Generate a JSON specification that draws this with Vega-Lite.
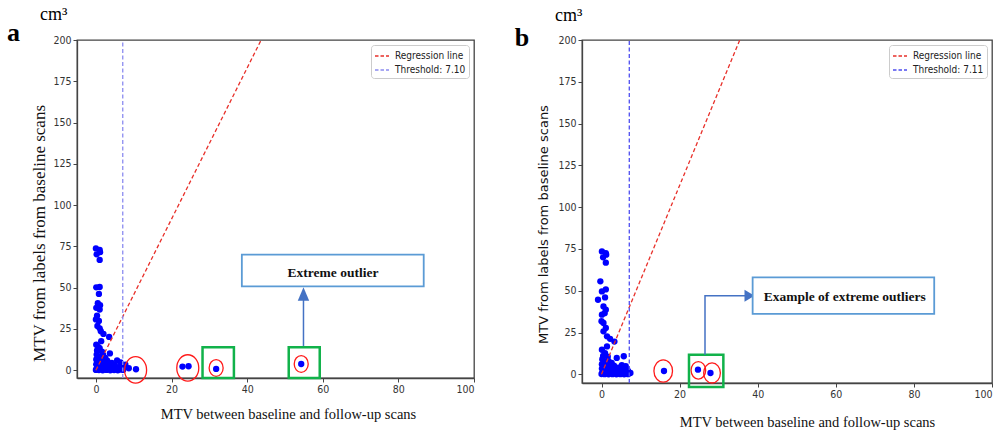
{
  "$schema": "https://vega.github.io/schema/vega-lite/v6.json",
  "background": "white",
  "padding": {"left": 6, "top": 5, "right": 0, "bottom": 0},
  "spacing": 38,
  "config": {
    "view": {"stroke": "#444444", "strokeWidth": 1.3},
    "axis": {
      "grid": false,
      "domainColor": "#444444",
      "domainWidth": 1.3,
      "tickColor": "#444444",
      "tickSize": 4,
      "labelFont": "Liberation Sans Narrow, DejaVu Sans Condensed, sans-serif",
      "labelFontSize": 10.5,
      "labelColor": "#333333",
      "labelPadding": 2,
      "titleColor": "#111111",
      "titleFontWeight": "normal"
    },
    "legend": {
      "title": null,
      "orient": "top-right",
      "offset": 5,
      "fillColor": "white",
      "strokeColor": "#cccccc",
      "cornerRadius": 3,
      "padding": 3,
      "symbolType": "stroke",
      "symbolDash": [3.5, 2],
      "symbolStrokeWidth": 1.5,
      "symbolSize": 196,
      "labelFont": "Liberation Sans Narrow, DejaVu Sans Condensed, sans-serif",
      "labelFontSize": 10,
      "labelColor": "#222222",
      "rowPadding": 1,
      "labelOffset": 5
    }
  },
  "datasets": {
    "scatterA": [
      {"x": 0.0, "y": 73.8}, {"x": 1.0, "y": 72.8}, {"x": 0.2, "y": 70.2}, {"x": 1.1, "y": 71.5}, {"x": 1.0, "y": 66.8},
      {"x": 0.1, "y": 50.2}, {"x": 1.0, "y": 50.4}, {"x": 0.8, "y": 46.2},
      {"x": 0.5, "y": 40.6}, {"x": 1.1, "y": 39.4}, {"x": 0.1, "y": 37.8}, {"x": 1.0, "y": 36.8}, {"x": 0.3, "y": 33.0},
      {"x": 0.0, "y": 30.8}, {"x": 0.8, "y": 29.8}, {"x": 0.4, "y": 26.8}, {"x": 1.0, "y": 25.4}, {"x": 1.3, "y": 23.6},
      {"x": 2.0, "y": 22.0}, {"x": 3.5, "y": 20.2},
      {"x": 1.4, "y": 17.6}, {"x": 0.1, "y": 15.5}, {"x": 0.6, "y": 14.2}, {"x": 1.0, "y": 13.4}, {"x": 0.3, "y": 12.0},
      {"x": 1.6, "y": 11.2}, {"x": 3.7, "y": 10.2}, {"x": 0.2, "y": 9.5}, {"x": 1.9, "y": 9.3}, {"x": 0.8, "y": 8.0},
      {"x": 2.5, "y": 7.5}, {"x": 0.1, "y": 6.5}, {"x": 1.2, "y": 6.2}, {"x": 3.0, "y": 5.8}, {"x": 5.6, "y": 6.0},
      {"x": 0.4, "y": 5.0}, {"x": 2.0, "y": 4.8}, {"x": 4.2, "y": 4.5}, {"x": 6.5, "y": 4.8}, {"x": 0.1, "y": 3.6},
      {"x": 1.0, "y": 3.5}, {"x": 2.8, "y": 3.2}, {"x": 3.6, "y": 3.0}, {"x": 5.0, "y": 3.2}, {"x": 7.8, "y": 3.4},
      {"x": 0.5, "y": 2.2}, {"x": 1.5, "y": 2.0}, {"x": 2.4, "y": 1.8}, {"x": 4.6, "y": 1.7}, {"x": 6.0, "y": 1.8},
      {"x": 7.0, "y": 2.0}, {"x": 0.2, "y": 1.0}, {"x": 1.1, "y": 0.8}, {"x": 2.0, "y": 0.6}, {"x": 3.2, "y": 0.8},
      {"x": 4.0, "y": 0.5}, {"x": 5.4, "y": 0.6}, {"x": 6.4, "y": 0.4}, {"x": 0.0, "y": 0.2}, {"x": 0.8, "y": 0.1},
      {"x": 1.8, "y": 0.0}, {"x": 2.8, "y": 0.2}, {"x": 3.8, "y": 0.0}, {"x": 4.8, "y": 0.1}, {"x": 5.8, "y": 0.0},
      {"x": 7.2, "y": 0.2},
      {"x": 8.7, "y": 1.2}, {"x": 10.6, "y": 0.6}, {"x": 22.9, "y": 2.2}, {"x": 24.5, "y": 2.4}, {"x": 31.8, "y": 0.8},
      {"x": 54.3, "y": 3.8}
    ],
    "scatterB": [
      {"x": 0.1, "y": 73.5}, {"x": 1.1, "y": 72.5}, {"x": 0.4, "y": 70.0}, {"x": 1.2, "y": 71.6}, {"x": 1.1, "y": 66.8},
      {"x": -0.3, "y": 55.6}, {"x": -0.9, "y": 44.6}, {"x": 0.1, "y": 49.6}, {"x": 1.1, "y": 50.8}, {"x": 0.9, "y": 46.0},
      {"x": 0.5, "y": 40.6}, {"x": 1.1, "y": 38.6}, {"x": 0.1, "y": 35.7}, {"x": 0.8, "y": 36.6}, {"x": 0.5, "y": 30.7},
      {"x": 0.0, "y": 31.8}, {"x": 1.1, "y": 27.7}, {"x": 0.5, "y": 25.7}, {"x": 1.4, "y": 22.7}, {"x": 2.2, "y": 21.2},
      {"x": 3.3, "y": 19.6},
      {"x": 1.4, "y": 16.7}, {"x": 0.1, "y": 14.7}, {"x": 0.9, "y": 12.7}, {"x": 0.4, "y": 11.0}, {"x": 1.6, "y": 10.5},
      {"x": 3.9, "y": 9.8}, {"x": 5.7, "y": 10.8}, {"x": 0.2, "y": 9.0}, {"x": 1.8, "y": 7.8}, {"x": 0.8, "y": 7.5},
      {"x": 2.6, "y": 6.8}, {"x": 0.1, "y": 6.0}, {"x": 1.3, "y": 5.6}, {"x": 3.2, "y": 5.2}, {"x": 5.2, "y": 5.5},
      {"x": 6.2, "y": 4.8}, {"x": 0.4, "y": 4.6}, {"x": 2.1, "y": 4.2}, {"x": 4.3, "y": 4.0}, {"x": 0.1, "y": 3.4},
      {"x": 1.0, "y": 3.2}, {"x": 2.9, "y": 3.0}, {"x": 3.7, "y": 2.8}, {"x": 5.1, "y": 2.9}, {"x": 6.6, "y": 3.0},
      {"x": 0.5, "y": 2.0}, {"x": 1.5, "y": 1.8}, {"x": 2.4, "y": 1.6}, {"x": 4.6, "y": 1.5}, {"x": 5.8, "y": 1.7},
      {"x": 6.9, "y": 1.6}, {"x": 0.2, "y": 0.9}, {"x": 1.1, "y": 0.7}, {"x": 2.0, "y": 0.5}, {"x": 3.2, "y": 0.7},
      {"x": 4.0, "y": 0.4}, {"x": 5.4, "y": 0.5}, {"x": 6.4, "y": 0.4}, {"x": 7.4, "y": 0.8}, {"x": 0.0, "y": 0.2},
      {"x": 0.8, "y": 0.1}, {"x": 1.8, "y": 0.0}, {"x": 2.8, "y": 0.1}, {"x": 3.8, "y": 0.0}, {"x": 4.8, "y": 0.1},
      {"x": 5.8, "y": 0.0}, {"x": 6.8, "y": 0.1},
      {"x": 16.0, "y": 2.0}, {"x": 24.7, "y": 2.8}, {"x": 27.9, "y": 0.8}
    ],
    "linesA": [
      {"series": "Regression line", "x": 0, "y": 0, "o": 0},
      {"series": "Regression line", "x": 43.7, "y": 200, "o": 1},
      {"series": "Threshold: 7.10", "x": 7.1, "y": -4.7, "o": 0},
      {"series": "Threshold: 7.10", "x": 7.1, "y": 200, "o": 1}
    ],
    "linesB": [
      {"series": "Regression line", "x": 0, "y": 0, "o": 0},
      {"series": "Regression line", "x": 35.4, "y": 200, "o": 1},
      {"series": "Threshold: 7.11", "x": 7.11, "y": -5.2, "o": 0},
      {"series": "Threshold: 7.11", "x": 7.11, "y": 200, "o": 1}
    ],
    "annA": [
      {"g": "ring", "k": "lg", "x": 10.5, "y": 0.2},
      {"g": "ring", "k": "lg", "x": 24.3, "y": 1.4},
      {"g": "ring", "k": "md", "x": 31.8, "y": 1.4},
      {"g": "ring", "k": "md", "x": 54.3, "y": 3.8},
      {"g": "box", "x": 28.2, "x2": 36.5, "y": 13.9, "y2": -4.7},
      {"g": "box", "x": 51.0, "x2": 59.2, "y": 13.9, "y2": -4.7},
      {"g": "callout", "x": 38.6, "x2": 86.7, "y": 70.0, "y2": 50.8},
      {"g": "note", "x": 62.7, "y": 58.7, "label": "Extreme outlier"},
      {"g": "arrow", "x": 54.9, "y": 14.7, "o": 0},
      {"g": "arrow", "x": 54.9, "y": 44.0, "o": 1},
      {"g": "head", "x": 54.9, "y": 46.2},
      {"g": "letter", "x": -23.5, "y": 199.4, "label": "a"},
      {"g": "unit", "x": -14.8, "y": 212.1, "label": "cm³"}
    ],
    "annB": [
      {"g": "ring", "k": "lg", "x": 15.8, "y": 2.0},
      {"g": "ring", "k": "sm", "x": 24.8, "y": 2.4},
      {"g": "ring", "k": "md", "x": 28.3, "y": 0.8},
      {"g": "box", "x": 22.4, "x2": 31.2, "y": 11.7, "y2": -7.6},
      {"g": "callout", "x": 38.7, "x2": 85.2, "y": 58.0, "y2": 36.2},
      {"g": "note", "x": 62.3, "y": 46.0, "label": "Example of extreme outliers"},
      {"g": "arrow", "x": 26.5, "y": 11.7, "o": 0},
      {"g": "arrow", "x": 26.5, "y": 47.0, "o": 1},
      {"g": "arrow", "x": 37.5, "y": 47.0, "o": 2},
      {"g": "head", "x": 37.9, "y": 47.0},
      {"g": "letter", "x": -22.2, "y": 196.4, "label": "b"},
      {"g": "unit", "x": -11.9, "y": 211.4, "label": "cm³"}
    ]
  },
  "hconcat": [
    {
      "width": 397,
      "height": 338,
      "layer": [
        {
          "data": {"name": "scatterA"},
          "mark": {"type": "circle", "color": "#0000ff", "size": 40, "opacity": 1},
          "encoding": {
            "x": {"field": "x", "type": "quantitative", "scale": {"domain": [-5, 100], "nice": false, "zero": false},
              "axis": {"values": [0, 20, 40, 60, 80, 100], "title": "MTV between baseline and follow-up scans",
                "titleFont": "Liberation Serif", "titleFontSize": 14.5, "titleX": 211, "titleY": 36,
                "titleAlign": "center", "titleBaseline": "middle"}},
            "y": {"field": "y", "type": "quantitative", "scale": {"domain": [-4.7, 200], "nice": false, "zero": false},
              "axis": {"values": [0, 25, 50, 75, 100, 125, 150, 175, 200], "title": "MTV from labels from baseline scans",
                "titleFont": "Liberation Serif", "titleFontSize": 17, "titleX": -38, "titleY": 193,
                "titleAngle": 270, "titleAlign": "center", "titleBaseline": "middle"}}
          }
        },
        {
          "data": {"name": "linesA"},
          "mark": {"type": "line", "strokeDash": [4, 2.5], "strokeWidth": 1.3},
          "encoding": {
            "x": {"field": "x", "type": "quantitative"},
            "y": {"field": "y", "type": "quantitative"},
            "color": {"field": "series", "type": "nominal",
              "scale": {"domain": ["Regression line", "Threshold: 7.10"], "range": ["#e8302a", "#8c8cf0"]}},
            "order": {"field": "o", "type": "quantitative"}
          }
        },
        {
          "data": {"name": "annA"},
          "transform": [{"filter": "datum.g === 'ring'"}],
          "mark": {"type": "point", "shape": "M-1,0A1,1.2,0,1,1,1,0A1,1.2,0,1,1,-1,0Z", "filled": false,
            "stroke": "#ff1a1a", "strokeWidth": 1.3, "opacity": 1},
          "encoding": {
            "x": {"field": "x", "type": "quantitative"},
            "y": {"field": "y", "type": "quantitative"},
            "size": {"field": "k", "type": "ordinal", "scale": {"domain": ["lg", "md"], "range": [484, 196]}, "legend": null}
          }
        },
        {
          "data": {"name": "annA"},
          "transform": [{"filter": "datum.g === 'box'"}],
          "mark": {"type": "rect", "fill": "transparent", "stroke": "#11b24a", "strokeWidth": 2.5},
          "encoding": {
            "x": {"field": "x", "type": "quantitative"}, "x2": {"field": "x2"},
            "y": {"field": "y", "type": "quantitative"}, "y2": {"field": "y2"}
          }
        },
        {
          "data": {"name": "annA"},
          "transform": [{"filter": "datum.g === 'arrow'"}],
          "mark": {"type": "line", "color": "#4472c4", "strokeWidth": 1.5},
          "encoding": {
            "x": {"field": "x", "type": "quantitative"},
            "y": {"field": "y", "type": "quantitative"},
            "order": {"field": "o", "type": "quantitative"}
          }
        },
        {
          "data": {"name": "annA"},
          "transform": [{"filter": "datum.g === 'head'"}],
          "mark": {"type": "point", "shape": "M0,-1L0.85,1L-0.85,1Z", "filled": true, "color": "#4472c4", "size": 180, "opacity": 1},
          "encoding": {
            "x": {"field": "x", "type": "quantitative"},
            "y": {"field": "y", "type": "quantitative"}
          }
        },
        {
          "data": {"name": "annA"},
          "transform": [{"filter": "datum.g === 'callout'"}],
          "mark": {"type": "rect", "fill": "white", "stroke": "#5b9bd5", "strokeWidth": 1.8},
          "encoding": {
            "x": {"field": "x", "type": "quantitative"}, "x2": {"field": "x2"},
            "y": {"field": "y", "type": "quantitative"}, "y2": {"field": "y2"}
          }
        },
        {
          "data": {"name": "annA"},
          "transform": [{"filter": "datum.g === 'note'"}],
          "mark": {"type": "text", "font": "Liberation Serif", "fontWeight": "bold", "fontSize": 13.5, "color": "#111111",
            "align": "center", "baseline": "middle"},
          "encoding": {
            "x": {"field": "x", "type": "quantitative"},
            "y": {"field": "y", "type": "quantitative"},
            "text": {"field": "label"}
          }
        },
        {
          "data": {"name": "annA"},
          "transform": [{"filter": "datum.g === 'letter'"}],
          "mark": {"type": "text", "font": "Liberation Serif", "fontWeight": "bold", "fontSize": 26, "color": "#000000",
            "align": "left", "baseline": "alphabetic"},
          "encoding": {
            "x": {"field": "x", "type": "quantitative"},
            "y": {"field": "y", "type": "quantitative"},
            "text": {"field": "label"}
          }
        },
        {
          "data": {"name": "annA"},
          "transform": [{"filter": "datum.g === 'unit'"}],
          "mark": {"type": "text", "font": "Liberation Serif", "fontSize": 18, "color": "#000000",
            "align": "left", "baseline": "alphabetic"},
          "encoding": {
            "x": {"field": "x", "type": "quantitative"},
            "y": {"field": "y", "type": "quantitative"},
            "text": {"field": "label"}
          }
        }
      ]
    },
    {
      "width": 410,
      "height": 343,
      "layer": [
        {
          "data": {"name": "scatterB"},
          "mark": {"type": "circle", "color": "#0000ff", "size": 40, "opacity": 1},
          "encoding": {
            "x": {"field": "x", "type": "quantitative", "scale": {"domain": [-5, 100], "nice": false, "zero": false},
              "axis": {"values": [0, 20, 40, 60, 80, 100], "title": "MTV between baseline and follow-up scans",
                "labelFlush": true,
                "titleFont": "Liberation Serif", "titleFontSize": 14.5, "titleX": 225, "titleY": 39,
                "titleAlign": "center", "titleBaseline": "middle"}},
            "y": {"field": "y", "type": "quantitative", "scale": {"domain": [-5.2, 200], "nice": false, "zero": false},
              "axis": {"values": [0, 25, 50, 75, 100, 125, 150, 175, 200], "title": "MTV from labels from baseline scans",
                "titleFont": "DejaVu Sans", "titleFontSize": 13, "titleX": -38.7, "titleY": 184,
                "titleAngle": 270, "titleAlign": "center", "titleBaseline": "middle"}}
          }
        },
        {
          "data": {"name": "linesB"},
          "mark": {"type": "line", "strokeDash": [4, 2.5], "strokeWidth": 1.3},
          "encoding": {
            "x": {"field": "x", "type": "quantitative"},
            "y": {"field": "y", "type": "quantitative"},
            "color": {"field": "series", "type": "nominal",
              "scale": {"domain": ["Regression line", "Threshold: 7.11"], "range": ["#e8302a", "#4d4df0"]}},
            "order": {"field": "o", "type": "quantitative"}
          }
        },
        {
          "data": {"name": "annB"},
          "transform": [{"filter": "datum.g === 'ring'"}],
          "mark": {"type": "point", "shape": "M-1,0A1,1.2,0,1,1,1,0A1,1.2,0,1,1,-1,0Z", "filled": false,
            "stroke": "#ff1a1a", "strokeWidth": 1.3, "opacity": 1},
          "encoding": {
            "x": {"field": "x", "type": "quantitative"},
            "y": {"field": "y", "type": "quantitative"},
            "size": {"field": "k", "type": "ordinal", "scale": {"domain": ["lg", "md", "sm"], "range": [346, 213, 130]}, "legend": null}
          }
        },
        {
          "data": {"name": "annB"},
          "transform": [{"filter": "datum.g === 'box'"}],
          "mark": {"type": "rect", "fill": "transparent", "stroke": "#11b24a", "strokeWidth": 2.5},
          "encoding": {
            "x": {"field": "x", "type": "quantitative"}, "x2": {"field": "x2"},
            "y": {"field": "y", "type": "quantitative"}, "y2": {"field": "y2"}
          }
        },
        {
          "data": {"name": "annB"},
          "transform": [{"filter": "datum.g === 'arrow'"}],
          "mark": {"type": "line", "color": "#4472c4", "strokeWidth": 1.5},
          "encoding": {
            "x": {"field": "x", "type": "quantitative"},
            "y": {"field": "y", "type": "quantitative"},
            "order": {"field": "o", "type": "quantitative"}
          }
        },
        {
          "data": {"name": "annB"},
          "transform": [{"filter": "datum.g === 'head'"}],
          "mark": {"type": "point", "shape": "M1,0L-1,-1.2L-1,1.2Z", "filled": true, "color": "#4472c4", "size": 100, "opacity": 1},
          "encoding": {
            "x": {"field": "x", "type": "quantitative"},
            "y": {"field": "y", "type": "quantitative"}
          }
        },
        {
          "data": {"name": "annB"},
          "transform": [{"filter": "datum.g === 'callout'"}],
          "mark": {"type": "rect", "fill": "white", "stroke": "#5b9bd5", "strokeWidth": 1.8},
          "encoding": {
            "x": {"field": "x", "type": "quantitative"}, "x2": {"field": "x2"},
            "y": {"field": "y", "type": "quantitative"}, "y2": {"field": "y2"}
          }
        },
        {
          "data": {"name": "annB"},
          "transform": [{"filter": "datum.g === 'note'"}],
          "mark": {"type": "text", "font": "Liberation Serif", "fontWeight": "bold", "fontSize": 13.5, "color": "#111111",
            "align": "center", "baseline": "middle"},
          "encoding": {
            "x": {"field": "x", "type": "quantitative"},
            "y": {"field": "y", "type": "quantitative"},
            "text": {"field": "label"}
          }
        },
        {
          "data": {"name": "annB"},
          "transform": [{"filter": "datum.g === 'letter'"}],
          "mark": {"type": "text", "font": "Liberation Serif", "fontWeight": "bold", "fontSize": 26, "color": "#000000",
            "align": "left", "baseline": "alphabetic"},
          "encoding": {
            "x": {"field": "x", "type": "quantitative"},
            "y": {"field": "y", "type": "quantitative"},
            "text": {"field": "label"}
          }
        },
        {
          "data": {"name": "annB"},
          "transform": [{"filter": "datum.g === 'unit'"}],
          "mark": {"type": "text", "font": "Liberation Serif", "fontSize": 18, "color": "#000000",
            "align": "left", "baseline": "alphabetic"},
          "encoding": {
            "x": {"field": "x", "type": "quantitative"},
            "y": {"field": "y", "type": "quantitative"},
            "text": {"field": "label"}
          }
        }
      ]
    }
  ],
  "resolve": {"scale": {"color": "independent", "size": "independent"}, "legend": {"color": "independent"}}
}
